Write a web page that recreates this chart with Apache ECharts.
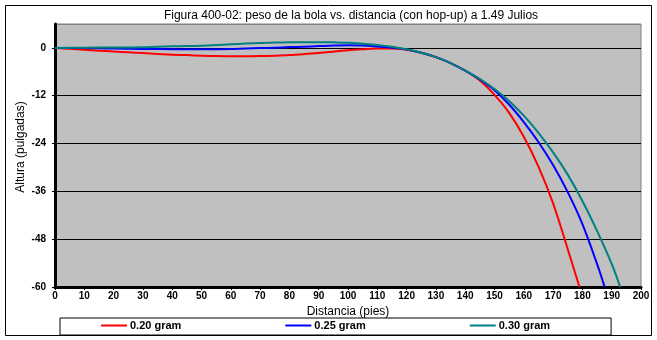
<!DOCTYPE html>
<html>
<head>
<meta charset="utf-8">
<script src="https://cdn.jsdelivr.net/npm/echarts@6/dist/echarts.min.js"></script>
<style>
  html, body { margin: 0; padding: 0; background: #fff; }
  #chart { width: 657px; height: 340px; }
</style>
</head>
<body>
<div id="chart"></div>
<script>
// Trajectory of the ball (height in inches vs distance in feet) for three ball weights
const seriesNames = ['0.20 gram', '0.25 gram', '0.30 gram'];

const distRed = [0, 5, 10, 15, 20, 25, 30, 35, 40, 45, 50, 55, 60, 65, 70, 75, 80, 85, 90, 95, 100, 105, 110, 115, 120, 125, 130, 135, 140, 145, 150, 155, 160, 165, 170, 175, 179];
const heightRed = [0, -0.2, -0.45, -0.7, -0.9, -1.1, -1.3, -1.5, -1.7, -1.8, -1.95, -2.05, -2.1, -2.1, -2.05, -1.95, -1.8, -1.55, -1.25, -0.95, -0.6, -0.35, -0.15, -0.15, -0.45, -1.2, -2.3, -3.8, -5.7, -8.2, -11.8, -16.3, -22.3, -29.8, -39, -50.5, -60];

const distBlue = [0, 10, 15, 20, 30, 40, 50, 60, 65, 70, 75, 80, 85, 90, 95, 100, 105, 110, 115, 120, 125, 130, 135, 140, 145, 150, 155, 160, 165, 170, 175, 180, 185, 187.6];
const heightBlue = [0, -0.05, -0.1, -0.17, -0.25, -0.33, -0.35, -0.3, -0.15, -0.05, 0.05, 0.2, 0.3, 0.45, 0.6, 0.67, 0.6, 0.35, 0.05, -0.4, -1.2, -2.3, -3.8, -5.7, -7.9, -10.6, -14.2, -18.6, -23.6, -29.4, -36.2, -44.2, -54.2, -60];

const distTeal = [0, 10, 20, 30, 35, 40, 45, 50, 55, 60, 65, 70, 75, 80, 85, 90, 95, 100, 105, 110, 115, 120, 125, 130, 135, 140, 145, 150, 155, 160, 165, 170, 175, 180, 185, 190, 192.9];
const heightTeal = [0, 0.05, 0.1, 0.15, 0.3, 0.4, 0.45, 0.55, 0.7, 0.9, 1.1, 1.25, 1.33, 1.4, 1.45, 1.45, 1.4, 1.3, 1.05, 0.75, 0.3, -0.35, -1.2, -2.3, -3.8, -5.7, -7.8, -10.3, -13.3, -17, -21.3, -26.2, -31.8, -38.4, -45.9, -54.2, -60];

const titleText = 'Figura 400-02: peso de la bola vs. distancia (con hop-up) a 1.49 Julios';
const xAxisTitle = 'Distancia (pies)';
const yAxisTitle = 'Altura (pulgadas)';

const pair = (xs, ys) => xs.map((x, i) => [x, ys[i]]);

const FONT = 'Liberation Sans';
const chart = echarts.init(document.getElementById('chart'), null, { renderer: 'canvas' });

const lineSeries = (name, color, xs, ys) => ({
  name,
  type: 'line',
  data: pair(xs, ys),
  showSymbol: false,
  smooth: 0.35,
  lineStyle: { color, width: 2, join: 'round' },
  itemStyle: { color },
  emphasis: { disabled: true },
  animation: false
});

chart.setOption({
  backgroundColor: '#ffffff',
  animation: false,
  grid: {
    left: 55, right: 16, top: 24, bottom: 53,
    show: true,
    backgroundColor: '#c0c0c0',
    borderColor: '#808080',
    borderWidth: 1
  },
  graphic: [
    {
      type: 'rect', z: 100, silent: true,
      shape: { x: 5.5, y: 5.5, width: 646, height: 330 },
      style: { fill: null, stroke: '#000', lineWidth: 1 }
    },
    {
      type: 'text', silent: true,
      x: 351, y: 16,
      style: {
        text: titleText, fill: '#000',
        font: '12px "' + FONT + '"',
        textAlign: 'center', textVerticalAlign: 'middle'
      }
    },
    {
      type: 'text', silent: true,
      x: 21, y: 147, rotation: Math.PI / 2,
      style: {
        text: yAxisTitle, fill: '#000',
        font: '12px "' + FONT + '"',
        textAlign: 'center', textVerticalAlign: 'middle'
      }
    }
  ],
  legend: {
    data: seriesNames.map(n => ({ name: n, icon: 'rect' })),
    left: 60, top: 318,
    orient: 'horizontal',
    itemWidth: 26, itemHeight: 2, itemGap: 104,
    padding: [2, 61, 4, 41],
    borderColor: '#000', borderWidth: 1,
    backgroundColor: '#fff',
    textStyle: { fontFamily: FONT, fontWeight: 'bold', fontSize: 11, color: '#000', padding: [0, 0, 0, -2] },
    selectedMode: false
  },
  xAxis: {
    type: 'value',
    min: 0, max: 200, interval: 10,
    name: xAxisTitle,
    nameLocation: 'middle',
    nameGap: 16,
    nameTextStyle: { fontFamily: FONT, fontSize: 12, color: '#000', verticalAlign: 'top' },
    axisLine: { show: true, onZero: false, lineStyle: { color: '#000', width: 3 } },
    axisTick: { show: true, length: 3, lineStyle: { color: '#000', width: 1 } },
    axisLabel: { fontFamily: FONT, fontWeight: 'bold', fontSize: 10, color: '#000', margin: 4 },
    splitLine: { show: false }
  },
  yAxis: {
    type: 'value',
    min: -60, max: 6, interval: 12,
    axisLine: { show: true, onZero: false, lineStyle: { color: '#000', width: 3 } },
    axisTick: { show: true, length: 3, lineStyle: { color: '#000', width: 1 } },
    axisLabel: { fontFamily: FONT, fontWeight: 'bold', fontSize: 10, color: '#000', margin: 9, showMaxLabel: false },
    splitLine: {
      show: true,
      lineStyle: { color: ['#000', '#000', '#000', '#000', '#000', '#000', '#808080'], width: 1 }
    }
  },
  series: [
    lineSeries(seriesNames[0], '#ff0000', distRed, heightRed),
    lineSeries(seriesNames[1], '#0000ff', distBlue, heightBlue),
    lineSeries(seriesNames[2], '#008080', distTeal, heightTeal)
  ]
});
</script>
</body>
</html>
